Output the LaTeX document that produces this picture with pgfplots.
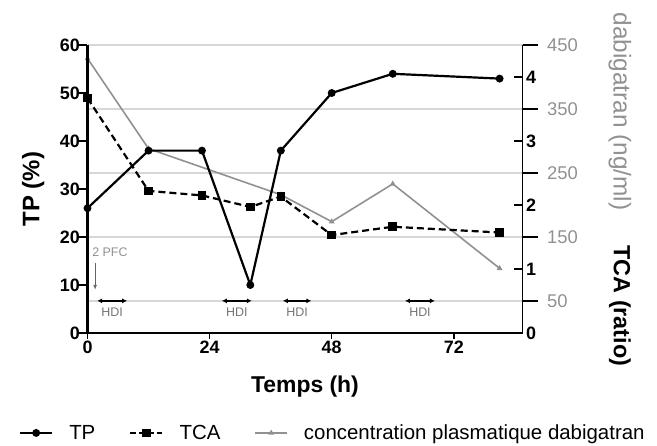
\documentclass[border=0pt]{standalone}
\usepackage{fontspec}
\setmainfont{Liberation Sans}
\usepackage{pgfplots}
\pgfplotsset{compat=1.18}
\usetikzlibrary{arrows.meta}
\definecolor{dgray}{RGB}{145,145,145}
\definecolor{gridc}{RGB}{215,215,215}
\begin{document}
\begin{tikzpicture}
\pgfplotsset{
  every axis/.append style={width=435bp,height=288bp,scale only axis,xmin=0,xmax=85.5,
    /pgf/number format/assume math mode=true, clip=false},
}
% ---------- dabigatran axis (outer right, gray) ----------
\begin{axis}[
  axis x line=none,
  axis y line*=right,
  ymin=0,ymax=450,
  ytick={50,150,250,350,450},
  ymajorgrids, grid style={gridc,line width=1.2bp},
  tick align=outside,
  major tick length=15bp,
  y axis line style={line width=1.8bp,-},
  ytick style={black,line width=1.8bp},
  yticklabel style={dgray, font=\fontsize{18.5}{18.5}\selectfont, anchor=west, xshift=6bp},
  ylabel={dabigatran (ng/ml)},
  ylabel style={dgray, font=\fontsize{24.5}{24.5}\selectfont, rotate=-180, anchor=center, at={(axis description cs:1.224,0.769)}},
]
\addplot[dgray, line width=1.6bp, mark=triangle*, mark size=1.8pt] coordinates {
 (0,429) (12,288) (38,216) (48,174) (60,233) (81,101)};
\end{axis}
% ---------- TCA axis (inner right, black) ----------
\begin{axis}[
  axis x line=none,
  axis y line*=right,
  ymin=0,ymax=4.5,
  ytick={0,1,2,3,4},
  tick align=inside,
  major tick length=9bp,
  y axis line style={line width=1.8bp,-},
  ytick style={black,line width=1.8bp},
  yticklabel style={black, font=\fontsize{18}{18}\selectfont\bfseries, anchor=west},
  ylabel={TCA (ratio)},
  ylabel style={black, font=\fontsize{23.5}{23.5}\selectfont\bfseries, rotate=-180, anchor=center, at={(axis description cs:1.224,0.094)}},
]
\addplot[black, line width=2.2bp, dash pattern=on 7bp off 4bp, mark=square*, mark size=3.2pt, mark options={solid}] coordinates {
 (0,3.67) (12,2.22) (22.5,2.15) (32,1.97) (38,2.13) (48,1.53) (60,1.66) (81,1.57)};
\end{axis}
% ---------- TP axis (left, bottom) ----------
\begin{axis}[
  axis x line=bottom,
  axis y line=left,
  axis line style={line width=2.6bp,-},
  ymin=0,ymax=60,
  xtick={0,24,48,72},
  ytick={0,10,20,30,40,50,60},
  tick align=outside,
  xtick style={black,line width=1.4bp,/pgfplots/major tick length=6bp},
  ytick style={black,line width=2.2bp,/pgfplots/major tick length=9bp},
  xticklabel style={font=\fontsize{18}{18}\selectfont\bfseries},
  yticklabel style={font=\fontsize{18}{18}\selectfont\bfseries},
  xlabel={Temps (h)},
  xlabel style={font=\fontsize{23}{23}\selectfont\bfseries, anchor=center, at={(axis description cs:0.5,-0.1875)}},
  ylabel={TP (\%)},
  ylabel style={font=\fontsize{24}{24}\selectfont\bfseries, anchor=center, at={(axis description cs:-0.125,0.5)}},
  legend columns=3,
  legend style={draw=none, fill=none, at={(axis description cs:0.564,-0.347)}, anchor=center,
    font=\fontsize{20.5}{20.5}\selectfont,
    /tikz/every odd column/.append style={column sep=14bp},
    /tikz/every even column/.append style={column sep=32bp}},
  legend image code/.code={
    \draw[mark repeat=2,mark phase=2,#1] plot coordinates {(0bp,0bp) (16bp,0bp) (32bp,0bp)};},
]
\addplot[black, line width=2.2bp, mark=*, mark size=2.8pt] coordinates {
 (0,26) (12,38) (22.5,38) (32,10) (38,38) (48,50) (60,54) (81,53)};
\addlegendentry{TP}
\addlegendimage{black, line width=2.2bp, dash pattern=on 6bp off 3bp, mark=square*, mark size=3.2pt, mark options={solid}}
\addlegendentry{TCA}
\addlegendimage{dgray, line width=1.6bp, mark=triangle*, mark size=1.8pt}
\addlegendentry{concentration plasmatique dabigatran}
% annotations
\node[anchor=west, dgray, font=\fontsize{12.5}{12.5}\selectfont, inner sep=0pt] at (axis cs:0.9,16.8) {2 PFC};
\draw[-{Latex[length=5bp,width=4bp]}, dgray!70!black, line width=1bp] (axis cs:1.5,14.6) -- (axis cs:1.5,9);
\draw[{Latex[length=5bp,width=5bp]}-{Latex[length=5bp,width=5bp]}, black, line width=1.6bp] (axis cs:1.9,6.7) -- (axis cs:7.8,6.7);
\draw[{Latex[length=5bp,width=5bp]}-{Latex[length=5bp,width=5bp]}, black, line width=1.6bp] (axis cs:26.4,6.7) -- (axis cs:32.3,6.7);
\draw[{Latex[length=5bp,width=5bp]}-{Latex[length=5bp,width=5bp]}, black, line width=1.6bp] (axis cs:38.4,6.7) -- (axis cs:44.0,6.7);
\draw[{Latex[length=5bp,width=5bp]}-{Latex[length=5bp,width=5bp]}, black, line width=1.6bp] (axis cs:62.4,6.7) -- (axis cs:68.3,6.7);
\node[dgray!80!black, font=\fontsize{12.5}{12.5}\selectfont, inner sep=0pt] at (axis cs:4.85,4.3) {HDI};
\node[dgray!80!black, font=\fontsize{12.5}{12.5}\selectfont, inner sep=0pt] at (axis cs:29.35,4.3) {HDI};
\node[dgray!80!black, font=\fontsize{12.5}{12.5}\selectfont, inner sep=0pt] at (axis cs:41.2,4.3) {HDI};
\node[dgray!80!black, font=\fontsize{12.5}{12.5}\selectfont, inner sep=0pt] at (axis cs:65.35,4.3) {HDI};
\path (axis description cs:0,0) ++(-87.5bp,-112bp) rectangle ++(657bp,445bp);
\end{axis}
\end{tikzpicture}
\end{document}
